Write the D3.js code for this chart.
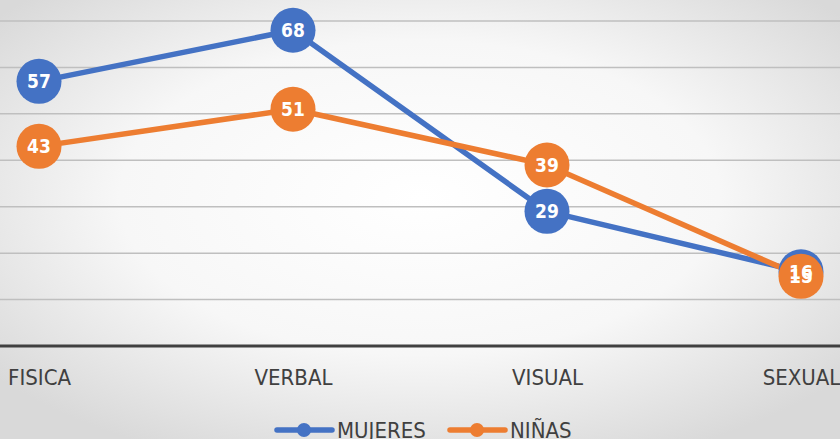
<!DOCTYPE html>
<html><head><meta charset="utf-8">
<script src="https://cdn.jsdelivr.net/npm/d3@7"></script>
<style>
html,body{margin:0;padding:0;overflow:hidden;}
svg{display:block;}
</style></head>
<body>
<svg id="chart" width="840" height="439"></svg>
<script>
const categories = ["FISICA", "VERBAL", "VISUAL", "SEXUAL"];
const mujeres = [57, 68, 29, 16];
const ninas = [43, 51, 39, 15];
const seriesNames = ["MUJERES", "NIÑAS"];
const yTicks = [0, 10, 20, 30, 40, 50, 60, 70, 80];

const W = 840, H = 439;
const colors = ["#4472C4", "#ED7D31"];
const font = "'Liberation Sans Narrow', 'DejaVu Sans Condensed', 'Open Sans', sans-serif";

const svg = d3.select("#chart");
const defs = svg.append("defs");
const grad = defs.append("radialGradient").attr("id", "bg")
  .attr("cx", "50%").attr("cy", "45%").attr("r", "65%");
grad.append("stop").attr("offset", "0%").attr("stop-color", "#ffffff");
grad.append("stop").attr("offset", "55%").attr("stop-color", "#f7f7f7");
grad.append("stop").attr("offset", "100%").attr("stop-color", "#d9d9d9");
svg.append("rect").attr("width", W).attr("height", H).attr("fill", "url(#bg)");

const x = d3.scalePoint().domain(categories).range([39, 801]);
const y = d3.scaleLinear().domain([0, 70]).range([346, 21]);

// gridlines
svg.append("g").selectAll("line").data(yTicks.filter(d => d > 0))
  .join("line")
  .attr("x1", 0).attr("x2", W)
  .attr("y1", d => y(d)).attr("y2", d => y(d))
  .attr("stroke", "#bfbfbf").attr("stroke-width", 1.5);

// x axis
const xAxis = svg.append("g").attr("transform", `translate(0,${y(0)})`)
  .call(d3.axisBottom(x).tickSize(0).tickPadding(23));
xAxis.select(".domain").remove();
xAxis.append("line").attr("x1", 0).attr("x2", W).attr("y1", 0).attr("y2", 0)
  .attr("stroke", "#404040").attr("stroke-width", 3);
xAxis.selectAll("text").attr("font-family", font).attr("font-size", 22)
  .attr("fill", "#404040").attr("dy", "0.71em");

const series = [mujeres, ninas];
const line = d3.line().x((d, i) => x(categories[i])).y(d => y(d));

series.forEach((vals, si) => {
  const g = svg.append("g");
  g.append("path").datum(vals).attr("d", line)
    .attr("fill", "none").attr("stroke", colors[si]).attr("stroke-width", 5.5)
    .attr("stroke-linejoin", "round");
});
series.forEach((vals, si) => {
  const g = svg.append("g");
  g.selectAll("circle").data(vals).join("circle")
    .attr("cx", (d, i) => x(categories[i])).attr("cy", d => y(d))
    .attr("r", 22.5).attr("fill", colors[si]);
});
series.forEach((vals, si) => {
  const g = svg.append("g");
  g.selectAll("text").data(vals).join("text")
    .attr("x", (d, i) => x(categories[i])).attr("y", d => y(d))
    .attr("dy", "0.36em").attr("text-anchor", "middle")
    .attr("font-family", font).attr("font-weight", "bold").attr("font-size", 19)
    .attr("fill", "#ffffff").text(d => d);
});

// legend
const legend = svg.append("g");
const legX = [277, 450];
seriesNames.forEach((name, i) => {
  const g = legend.append("g").attr("transform", `translate(${legX[i]},430)`);
  g.append("line").attr("x1", 0).attr("x2", 55).attr("y1", 0).attr("y2", 0)
    .attr("stroke", colors[i]).attr("stroke-width", 5.5).attr("stroke-linecap", "round");
  g.append("circle").attr("cx", 27).attr("cy", 0).attr("r", 7).attr("fill", colors[i]);
  g.append("text").attr("x", 60).attr("y", 0).attr("dy", "0.36em")
    .attr("font-family", font).attr("font-size", 22).attr("fill", "#404040").text(name);
});
</script>
</body></html>
